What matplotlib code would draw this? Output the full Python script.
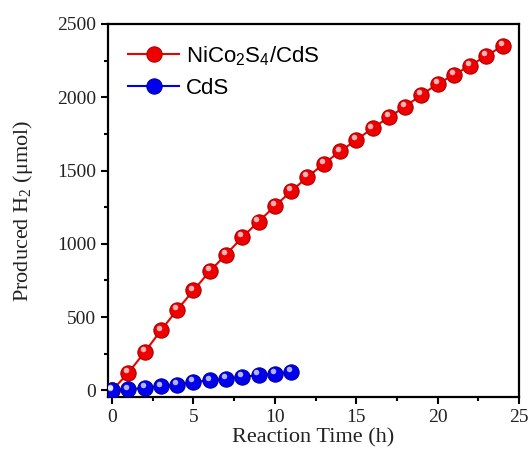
import matplotlib
matplotlib.use("Agg")
import matplotlib.pyplot as plt
import matplotlib.transforms as mtransforms
from matplotlib.ticker import MultipleLocator

time_red = [0, 1, 2, 3, 4, 5, 6, 7, 8, 9, 10, 11, 12, 13, 14, 15, 16, 17, 18, 19, 20, 21, 22, 23, 24]
h2_red = [0, 120, 261, 409, 550, 682, 813, 927, 1045, 1152, 1257, 1359, 1455, 1546, 1630,
          1709, 1788, 1864, 1936, 2016, 2091, 2154, 2216, 2284, 2350]
time_blue = [0, 1, 2, 3, 4, 5, 6, 7, 8, 9, 10, 11]
h2_blue = [5, 7, 16, 27, 39, 57, 68, 80, 91, 105, 114, 125]

label_red = r"NiCo$\mathregular{_2}$S$\mathregular{_4}$/CdS"
label_blue = "CdS"

fig = plt.figure(figsize=(5.31, 4.55), dpi=100)
ax = fig.add_axes([0.2034, 0.1275, 0.774, 0.8198])

serif = ["Liberation Serif", "DejaVu Serif"]
sans = ["Liberation Sans", "DejaVu Sans"]

def sphere(x, y, color, edge, label):
    ax.plot(x, y, '-', color=color, lw=1.5, marker='o', ms=11,
            mfc=color, mec=edge, mew=0.8, label=label, zorder=3)
    off = mtransforms.ScaledTranslation(-1.5 / 72, 2.0 / 72, fig.dpi_scale_trans)
    ax.plot(x, y, 'o', ms=4, color='white', alpha=0.7, mew=0,
            transform=ax.transData + off, zorder=4)

sphere(time_red, h2_red, '#ee0000', '#b00000', label_red)
sphere(time_blue, h2_blue, '#0000ee', '#0000a0', label_blue)

ax.set_xlim(-0.25, 25)
ax.set_ylim(-45, 2500)
ax.xaxis.set_major_locator(MultipleLocator(5))
ax.xaxis.set_minor_locator(MultipleLocator(2.5))
ax.yaxis.set_major_locator(MultipleLocator(500))
ax.yaxis.set_minor_locator(MultipleLocator(250))
ax.tick_params(which='both', direction='out', width=1.5, top=False, right=False)
ax.tick_params(which='major', length=5)
ax.tick_params(which='minor', length=3)
for s in ax.spines.values():
    s.set_linewidth(1.6)

for lab in ax.get_xticklabels() + ax.get_yticklabels():
    lab.set_fontfamily(serif)
    lab.set_fontsize(14)
    lab.set_color('#222222')

ax.set_xlabel("Reaction Time (h)", fontsize=16, family=serif, labelpad=2, color='#222222')
ax.set_ylabel(r"Produced H$\mathregular{_2}$ (μmol)", fontsize=16, family=serif,
              labelpad=16, color='#222222')

leg = ax.legend(loc='upper left', frameon=False, prop={'family': sans, 'size': 16},
                handlelength=2.3, handletextpad=0.3, borderaxespad=0.5, labelspacing=0.45,
                bbox_to_anchor=(0.0, 1.0))

fig.savefig("out.png", dpi=100)
